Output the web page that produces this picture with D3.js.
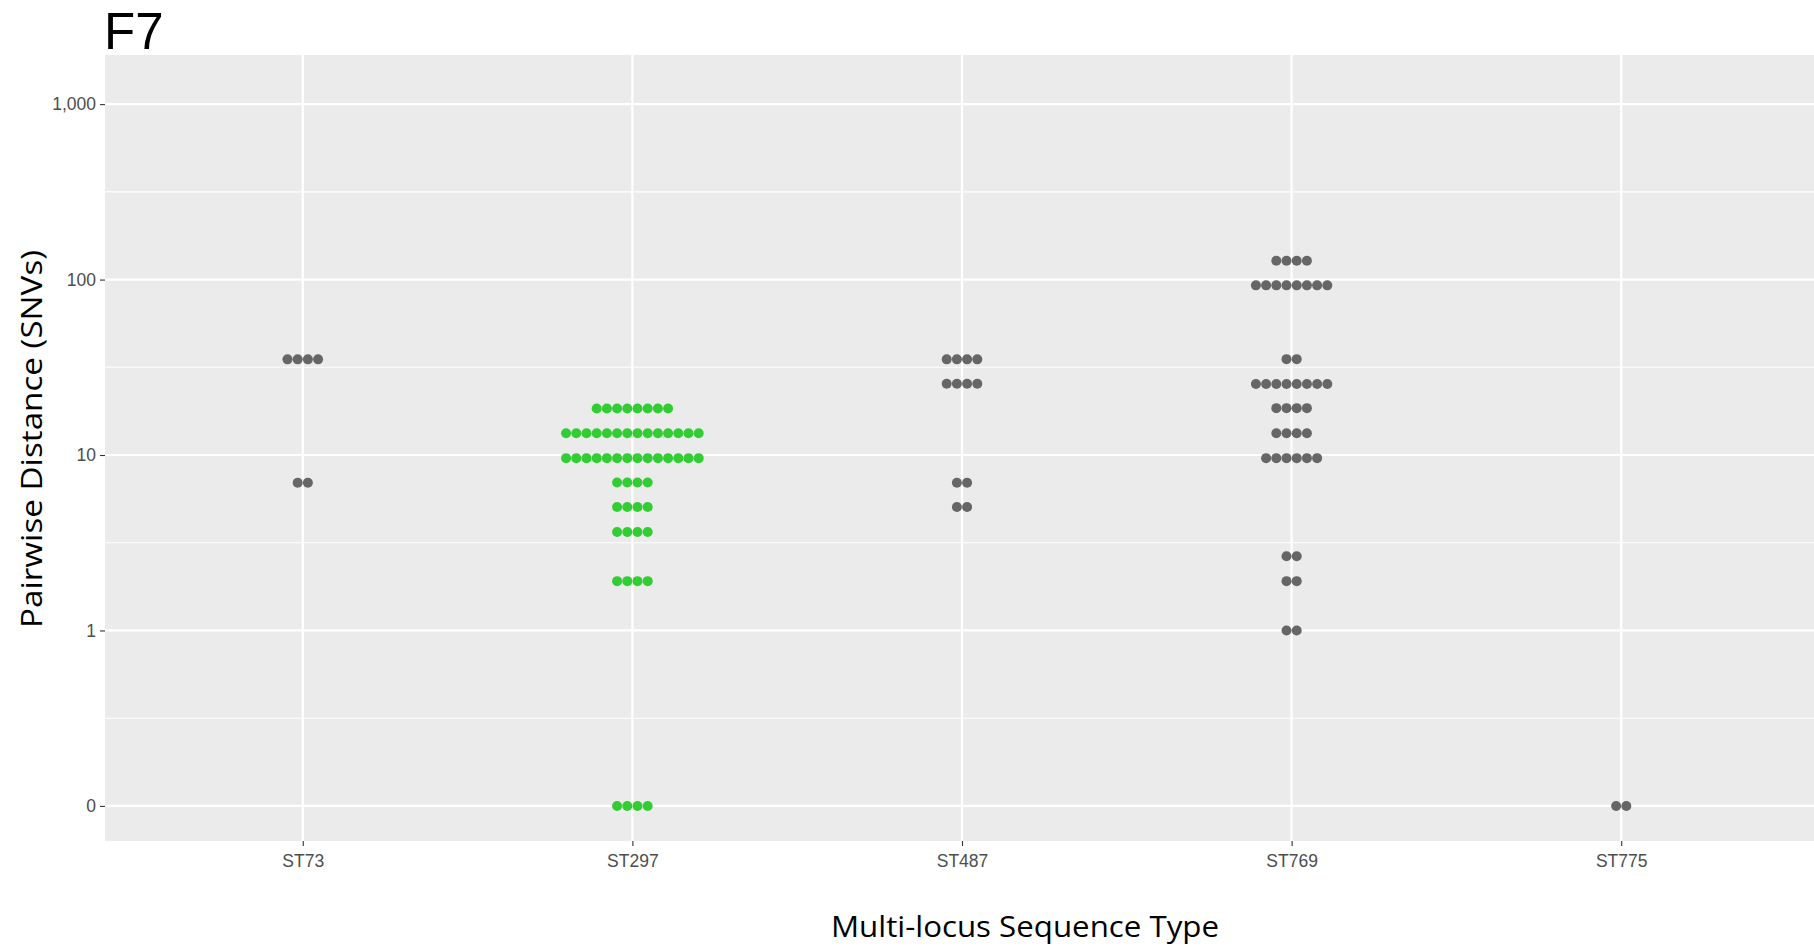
<!DOCTYPE html>
<html>
<head>
<meta charset="utf-8">
<script src="https://cdn.jsdelivr.net/npm/d3@7"></script>
<style>
  html, body { margin: 0; padding: 0; background: #fff; }
  svg { display: block; }
</style>
</head>
<body>
<svg id="chart" width="1814" height="947"></svg>
<script>
// Multi-locus sequence types on the x axis
const sequenceTypes = ["ST73", "ST297", "ST487", "ST769", "ST775"];

// Pairwise SNV distances (stacked dot rows) and how many pairs sit in each row
const st73Distance  = [35.1, 6.95];
const st73Count     = [4, 2];
const st297Distance = [18.4, 13.3, 9.6, 6.98, 5.05, 3.64, 1.91, 0];
const st297Count    = [8, 14, 14, 4, 4, 4, 4, 4];
const st487Distance = [35.1, 25.5, 6.95, 5.06];
const st487Count    = [4, 4, 2, 2];
const st769Distance = [128, 92.7, 35.2, 25.4, 18.5, 13.3, 9.6, 2.65, 1.91, 1.0];
const st769Count    = [4, 8, 2, 8, 4, 4, 6, 2, 2, 2];
const st775Distance = [0];
const st775Count    = [2];

// y axis ticks (0 is drawn one decade below 1)
const yTicks = [0, 1, 10, 100, 1000];
const highlightType = "ST297";

const groups = [
  { st: "ST73",  dist: st73Distance,  count: st73Count },
  { st: "ST297", dist: st297Distance, count: st297Count },
  { st: "ST487", dist: st487Distance, count: st487Count },
  { st: "ST769", dist: st769Distance, count: st769Count },
  { st: "ST775", dist: st775Distance, count: st775Count }
];

const svg = d3.select("#chart");
const panel = { left: 105, right: 1819, top: 55, bottom: 841 };

// log10 position, with zero pinned one decade below 1
const toLog = v => v > 0 ? Math.log10(v) : -1;
const y = d3.scaleLinear().domain([-1.2, 3.28]).range([panel.bottom, panel.top]);
const yPos = v => y(toLog(v));

const x = d3.scalePoint().domain(sequenceTypes)
  .range([panel.left, panel.right]).padding(0.6);

// panel background
svg.append("rect")
  .attr("x", panel.left).attr("y", panel.top)
  .attr("width", panel.right - panel.left).attr("height", panel.bottom - panel.top)
  .attr("fill", "#EBEBEB");

const grid = svg.append("g");
// minor horizontal grid (half-decades)
[-0.5, 0.5, 1.5, 2.5].forEach(u => {
  grid.append("line")
    .attr("x1", panel.left).attr("x2", panel.right)
    .attr("y1", y(u)).attr("y2", y(u))
    .attr("stroke", "#fff").attr("stroke-width", 1.1);
});
// major horizontal grid
yTicks.forEach(t => {
  grid.append("line")
    .attr("x1", panel.left).attr("x2", panel.right)
    .attr("y1", yPos(t)).attr("y2", yPos(t))
    .attr("stroke", "#fff").attr("stroke-width", 2.2);
});
// vertical grid at each sequence type
sequenceTypes.forEach(s => {
  grid.append("line")
    .attr("x1", x(s)).attr("x2", x(s))
    .attr("y1", panel.top).attr("y2", panel.bottom)
    .attr("stroke", "#fff").attr("stroke-width", 2.2);
});

// y axis
const yAxis = d3.axisLeft(y)
  .tickValues(yTicks.map(toLog))
  .tickFormat((d, i) => d3.format(",")(yTicks[i]))
  .tickSize(5).tickPadding(4);
const gy = svg.append("g").attr("transform", `translate(${panel.left},0)`).call(yAxis);
gy.select(".domain").remove();
gy.selectAll(".tick line").attr("stroke", "#333").attr("stroke-width", 1.1);
gy.selectAll(".tick text")
  .attr("fill", "#4D4D4D")
  .style("font-family", "Liberation Sans, Arial, sans-serif")
  .style("font-size", "17.5px");

// x axis
const xAxis = d3.axisBottom(x).tickSize(5).tickPadding(9);
const gx = svg.append("g").attr("transform", `translate(0,${panel.bottom})`).call(xAxis);
gx.select(".domain").remove();
gx.selectAll(".tick line").attr("stroke", "#333").attr("stroke-width", 1.1);
gx.selectAll(".tick text")
  .attr("fill", "#4D4D4D")
  .style("font-family", "Liberation Sans, Arial, sans-serif")
  .style("font-size", "17.5px");

// dots, stacked horizontally and centred on each sequence type
const dotStep = 10.2;
const dots = [];
groups.forEach(g => {
  g.dist.forEach((d, r) => {
    const n = g.count[r];
    for (let i = 0; i < n; i++) {
      dots.push({ st: g.st, dist: d, offset: (i - (n - 1) / 2) * dotStep });
    }
  });
});
svg.append("g").selectAll("circle").data(dots).join("circle")
  .attr("cx", d => x(d.st) + d.offset)
  .attr("cy", d => yPos(d.dist))
  .attr("r", 5)
  .attr("fill", d => d.st === highlightType ? "#32CD32" : "#666666");

// titles
svg.append("text")
  .attr("x", 104).attr("y", 49)
  .style("font-family", "Liberation Sans, Arial, sans-serif")
  .style("font-size", "51px")
  .attr("fill", "#000")
  .text("F7");

svg.append("text")
  .attr("x", 1025).attr("y", 937)
  .attr("text-anchor", "middle")
  .attr("textLength", 388).attr("lengthAdjust", "spacingAndGlyphs")
  .style("font-family", "Open Sans, sans-serif")
  .style("font-size", "30px")
  .attr("fill", "#000")
  .text("Multi-locus Sequence Type");

svg.append("text")
  .attr("transform", "translate(42,439) rotate(-90)")
  .attr("text-anchor", "middle")
  .attr("textLength", 378).attr("lengthAdjust", "spacingAndGlyphs")
  .style("font-family", "Open Sans, sans-serif")
  .style("font-size", "30px")
  .attr("fill", "#000")
  .text("Pairwise Distance (SNVs)");
</script>
</body>
</html>
